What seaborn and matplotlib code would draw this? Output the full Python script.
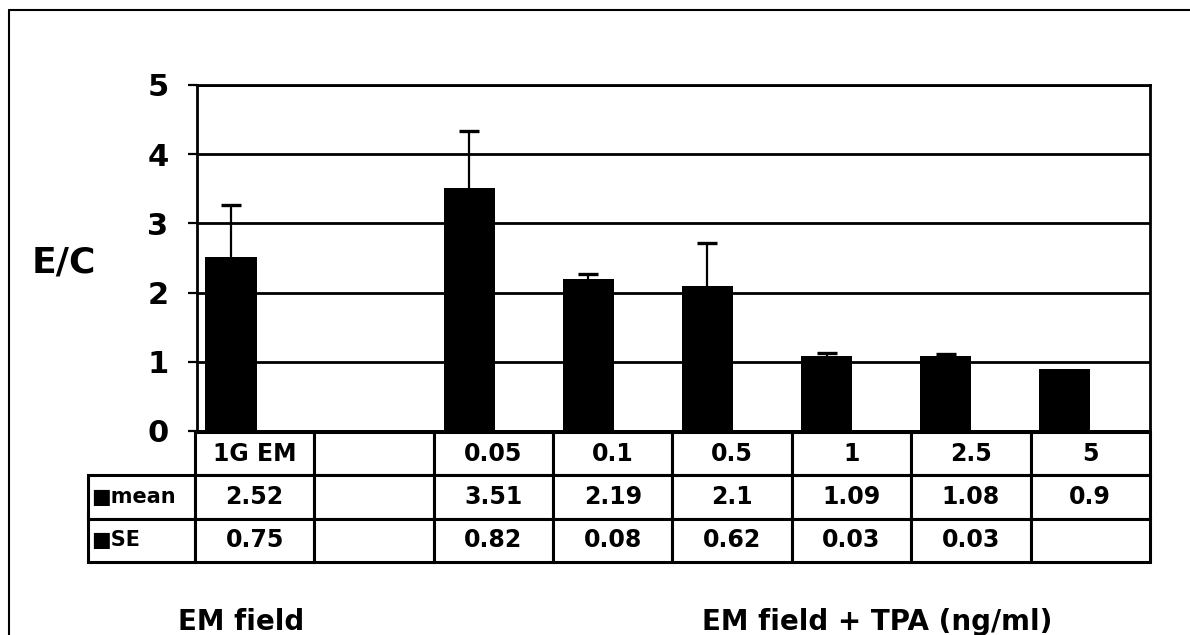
import numpy as np
import pandas as pd
import matplotlib
matplotlib.use('Agg')
import matplotlib.pyplot as plt
from matplotlib.lines import Line2D
import seaborn as sns

# values
conditions = ['1G EM', ' ', '0.05', '0.1', '0.5', '1', '2.5', '5']
mean_vals = [2.52, np.nan, 3.51, 2.19, 2.1, 1.09, 1.08, 0.9]
se_vals = [0.75, np.nan, 0.82, 0.08, 0.62, 0.03, 0.03, np.nan]
mean_labels = ['2.52', '', '3.51', '2.19', '2.1', '1.09', '1.08', '0.9']
se_labels = ['0.75', '', '0.82', '0.08', '0.62', '0.03', '0.03', '']
series_names = ['mean', 'SE']
y_ticks = [0, 1, 2, 3, 4, 5]

# long frame for seaborn: SE is only shown as error bars, its bar slot stays empty
df = pd.DataFrame({
    'condition': conditions * 2,
    'series': ['mean'] * len(conditions) + ['SE'] * len(conditions),
    'value': mean_vals + [np.nan] * len(conditions),
})

sns.set_style('white')
plt.rcParams['font.family'] = ['DejaVu Sans']
plt.rcParams['font.weight'] = 'bold'
plt.rcParams['text.color'] = 'black'
plt.rcParams['ytick.color'] = 'black'
plt.rcParams['ytick.labelcolor'] = 'black'

W, H = 1190, 635
fig = plt.figure(figsize=(W / 100, H / 100), dpi=100)
ax = fig.add_axes([197 / W, 1 - 431 / H, (1150 - 197) / W, (431 - 85) / H])

sns.barplot(data=df, x='condition', y='value', hue='series',
            order=conditions, hue_order=series_names,
            palette={'mean': 'black', 'SE': 'black'},
            width=0.86, dodge=True, errorbar=None, legend=False,
            linewidth=0, ax=ax)

# error bars (upper only) on top of the mean bars
xs, ys, es = [], [], []
for patch in ax.containers[0]:
    h = patch.get_height()
    if np.isnan(h):
        continue
    cx = patch.get_x() + patch.get_width() / 2
    idx = int(round(cx))
    if not np.isnan(se_vals[idx]):
        xs.append(cx)
        ys.append(h)
        es.append(se_vals[idx])
eb = ax.errorbar(xs, ys, yerr=[np.zeros(len(es)), es], fmt='none', ecolor='black',
                 elinewidth=1.6, capsize=7, capthick=2.4, zorder=3)
# hide the caps sitting on the bar tops
eb[1][0].set_visible(False)

ax.set_ylim(0, 5)
ax.set_yticks(y_ticks)
ax.set_xlim(-0.5, len(conditions) - 0.5)
ax.yaxis.grid(True, color='black', linewidth=2)
ax.set_axisbelow(True)
for s in ax.spines.values():
    s.set_visible(True)
    s.set_color('black')
    s.set_linewidth(2)
ax.tick_params(axis='y', labelsize=22, length=6.5, width=1.6, pad=14,
               direction='out', left=True, colors='black')
ax.tick_params(axis='x', bottom=False, labelbottom=False)
for lbl in ax.get_yticklabels():
    lbl.set_fontweight('bold')
ax.set_xlabel('')
ax.set_ylabel('')

# data table under the plot
cell_text = [[''] + [c.strip() for c in conditions],
             ['\u25A0mean'] + mean_labels,
             ['\u25A0SE'] + se_labels]
tbl = ax.table(cellText=cell_text, colWidths=[107] + [119.4] * len(conditions),
               cellLoc='center',
               bbox=[(88 - 197) / 953, -(562 - 431) / 346, (1150 - 88) / 953, 130 / 346])
tbl.auto_set_font_size(False)
tbl.set_fontsize(17)
for (r, c), cell in tbl.get_celld().items():
    cell.set_linewidth(2.2)
    cell.set_edgecolor('black')
    cell.get_text().set_fontweight('bold')
    cell.get_text().set_color('black')
    if c == 0:
        cell.get_text().set_ha('left')
        cell.get_text().set_fontsize(15)
        cell.PAD = 0.03
    if r == 0 and c == 0:
        cell.visible_edges = 'open'

fig.text(64 / W, 1 - 262 / H, 'E/C', ha='center', va='center',
         fontsize=26, fontweight='bold', color='black')
fig.text(241 / W, 1 - 622 / H, 'EM field', ha='center', va='center',
         fontsize=20, fontweight='bold', color='black')
fig.text(877 / W, 1 - 622 / H, 'EM field + TPA (ng/ml)', ha='center', va='center',
         fontsize=20, fontweight='bold', color='black')

# outer frame (left and top edges visible)
fig.add_artist(Line2D([9 / W, 9 / W], [0, 1 - 10 / H], transform=fig.transFigure,
                      color='black', linewidth=1.5))
fig.add_artist(Line2D([9 / W, 1], [1 - 10 / H, 1 - 10 / H], transform=fig.transFigure,
                      color='black', linewidth=1.5))

fig.savefig('out.png', dpi=100)
